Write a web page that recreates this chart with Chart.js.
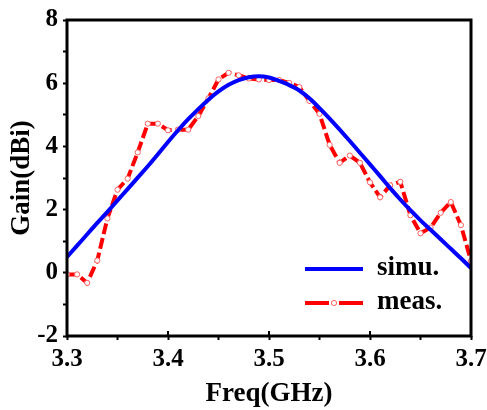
<!DOCTYPE html>
<html>
<head>
<meta charset="utf-8">
<script src="https://cdn.jsdelivr.net/npm/chart.js@4"></script>
<style>
  html, body { margin: 0; padding: 0; background: #fff; }
  #wrap { width: 487px; height: 410px; }
</style>
</head>
<body>
<div id="wrap"><canvas id="gainChart" width="487" height="410"></canvas></div>
<script>
// Frequency points (GHz)
const freqs = [3.30, 3.31, 3.32, 3.33, 3.34, 3.35, 3.36, 3.37, 3.38, 3.39,
               3.40, 3.41, 3.42, 3.43, 3.44, 3.45, 3.46, 3.47, 3.48, 3.49,
               3.50, 3.51, 3.52, 3.53, 3.54, 3.55, 3.56, 3.57, 3.58, 3.59,
               3.60, 3.61, 3.62, 3.63, 3.64, 3.65, 3.66, 3.67, 3.68, 3.69, 3.70];
// Simulated gain (dBi)
const simuGain = [0.50, 0.86, 1.22, 1.58, 1.93, 2.29, 2.65, 3.01, 3.37, 3.75,
                  4.14, 4.51, 4.86, 5.18, 5.48, 5.74, 5.95, 6.10, 6.19, 6.22,
                  6.18, 6.07, 5.94, 5.77, 5.52, 5.21, 4.88, 4.53, 4.17, 3.80,
                  3.43, 3.06, 2.68, 2.32, 1.98, 1.66, 1.36, 1.06, 0.76, 0.46, 0.15];
// Measured gain (dBi)
const measGain = [-0.05, -0.05, -0.32, 0.39, 1.72, 2.63, 2.98, 3.81, 4.72, 4.72,
                  4.51, 4.53, 4.53, 4.96, 5.52, 6.12, 6.33, 6.25, 6.15, 6.12,
                  6.10, 6.10, 6.01, 5.88, 5.44, 5.03, 4.05, 3.48, 3.71, 3.48,
                  2.86, 2.39, 2.77, 2.88, 1.82, 1.25, 1.43, 1.90, 2.24, 1.51, 0.37];
const xTicks = [3.3, 3.4, 3.5, 3.6, 3.7];
const yTicks = [-2, 0, 2, 4, 6, 8];

const serif = "'Liberation Serif', 'Times New Roman', serif";
const measDash = [11, 4];

// Black frame round the plot, inward major x ticks, and the legend
const framePlugin = {
    id: "frame",
    afterDraw(chart) {
        const { ctx, chartArea: a, scales } = chart;
        ctx.save();
        ctx.strokeStyle = "#000";
        ctx.lineWidth = 3;
        ctx.strokeRect(a.left, a.top, a.right - a.left, a.bottom - a.top);

        // major x ticks point up into the plot
        ctx.lineWidth = 2;
        xTicks.forEach(v => {
            const px = scales.x.getPixelForValue(v);
            ctx.beginPath();
            ctx.moveTo(px, a.bottom);
            ctx.lineTo(px, a.bottom - 5);
            ctx.stroke();
        });

        // legend
        const items = chart.data.datasets;
        const x0 = 305, x1 = 363;
        const rows = [269, 303];
        ctx.font = "bold 27px " + serif;
        ctx.textBaseline = "middle";
        ctx.textAlign = "left";
        items.forEach((ds, i) => {
            const y = rows[i];
            ctx.strokeStyle = ds.borderColor;
            ctx.lineWidth = ds.borderWidth;
            ctx.setLineDash(i === 1 ? [24, 10] : []);
            ctx.beginPath();
            ctx.moveTo(x0, y);
            ctx.lineTo(x1, y);
            ctx.stroke();
            ctx.setLineDash([]);
            if (ds.pointRadius > 0) {
                ctx.beginPath();
                ctx.arc((x0 + x1) / 2, y, ds.pointRadius, 0, Math.PI * 2);
                ctx.fillStyle = ds.pointBackgroundColor;
                ctx.fill();
                ctx.lineWidth = ds.pointBorderWidth;
                ctx.strokeStyle = ds.pointBorderColor;
                ctx.stroke();
            }
            ctx.fillStyle = "#000";
            ctx.fillText(ds.label, 377, y - 1);
        });
        ctx.restore();
    }
};

const chart = new Chart(document.getElementById("gainChart"), {
    type: "line",
    data: {
        datasets: [{
            label: "simu.",
            data: freqs.map((f, i) => ({ x: f, y: simuGain[i] })),
            borderColor: "#0000ff",
            borderWidth: 4,
            pointRadius: 0,
            cubicInterpolationMode: "monotone"
        }, {
            label: "meas.",
            data: freqs.map((f, i) => ({ x: f, y: measGain[i] })),
            borderColor: "#ff0000",
            borderWidth: 4,
            borderDash: measDash,
            pointRadius: 2.6,
            pointBackgroundColor: "#ffffff",
            pointBorderColor: "#ff6060",
            pointBorderWidth: 1,
            tension: 0
        }]
    },
    options: {
        responsive: false,
        animation: false,
        layout: { padding: { top: 14, right: 16, left: 0, bottom: 0 } },
        plugins: {
            legend: { display: false },
            tooltip: { enabled: false }
        },
        scales: {
            x: {
                type: "linear",
                min: 3.3,
                max: 3.7,
                afterFit: s => {
                    s.height = 74;
                    s.paddingRight = 0; // let the "3.7" label run to the edge
                },
                afterBuildTicks: s => {
                    s.ticks = [3.3, 3.35, 3.4, 3.45, 3.5, 3.55, 3.6, 3.65, 3.7].map(v => ({ value: v }));
                },
                ticks: {
                    autoSkip: false,
                    maxRotation: 0,
                    padding: 5,
                    color: "#000",
                    font: { family: serif, size: 25, weight: "bold" },
                    callback: v => xTicks.some(t => Math.abs(t - v) < 1e-6) ? v.toFixed(1) : ""
                },
                grid: { drawOnChartArea: false, tickLength: 4, tickWidth: 2, color: "#000" },
                border: { display: false },
                title: {
                    display: true,
                    text: "Freq(GHz)",
                    color: "#000",
                    padding: { top: 0, bottom: 0 },
                    font: { family: serif, size: 27, weight: "bold" }
                }
            },
            y: {
                min: -2,
                max: 8,
                afterFit: s => { s.width = 67; },
                afterBuildTicks: s => {
                    s.ticks = [-2, -1, 0, 1, 2, 3, 4, 5, 6, 7, 8].map(v => ({ value: v }));
                },
                ticks: {
                    autoSkip: false,
                    padding: 5,
                    color: "#000",
                    font: { family: serif, size: 25, weight: "bold" },
                    callback: v => yTicks.includes(v) ? String(v) : ""
                },
                grid: { drawOnChartArea: false, tickLength: 4, tickWidth: 2, color: "#000" },
                border: { display: false },
                title: {
                    display: true,
                    text: "Gain(dBi)",
                    color: "#000",
                    padding: { top: 6, bottom: 0 },
                    font: { family: serif, size: 27, weight: "bold" }
                }
            }
        }
    },
    plugins: [framePlugin]
});
</script>
</body>
</html>
